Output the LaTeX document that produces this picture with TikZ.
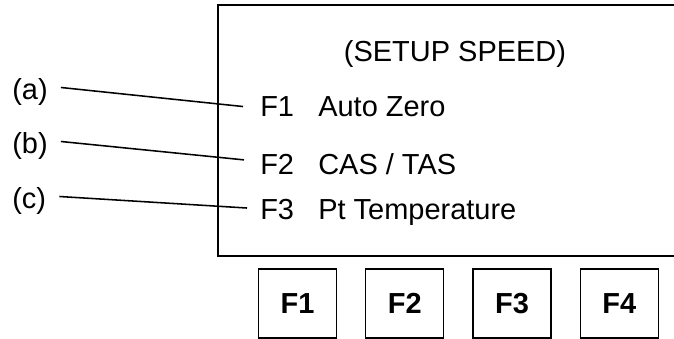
\documentclass[tikz,border=0pt]{standalone}
\usepackage{fontspec}
\setmainfont{Liberation Sans}
\usetikzlibrary{positioning}

\begin{document}
\begin{tikzpicture}[x=0.025cm,y=0.025cm,
  txt/.style={inner sep=0pt,anchor=base west,font=\fontsize{20.6}{24}\selectfont},
  key/.style={draw,line width=0.9pt,minimum width=1.95cm,minimum height=1.725cm,inner sep=0pt,font=\fontsize{20.6}{24}\selectfont\bfseries},
  lead/.style={line width=1.1pt}]
\useasboundingbox (0,0) rectangle (674,339);
% display
\draw[line width=1.8pt] (674,334) -- (218,334) -- (218,83) -- (674,83);
\node[txt,anchor=base] (title) at (455,277) {(SETUP SPEED)};
\node[txt] (f1) at (260,222.5) {F1};
\node[txt] (f2) at (260,164) {F2};
\node[txt] (f3) at (260,119) {F3};
\node[txt] (auto) at (318,222.5) {Auto Zero};
\node[txt] (cas)  at (318,164) {CAS / TAS};
\node[txt] (pt)   at (318,119) {Pt Temperature};
% labels
\node[txt] (la) at (12,239) {(a)};
\node[txt] (lb) at (12,185) {(b)};
\node[txt] (lc) at (12,130) {(c)};
\draw[lead] ([shift={(13,5)}]la.east) -- ([shift={(-17,0)}]f1.west);
\draw[lead] ([shift={(13,5)}]lb.east) -- ([shift={(-16,5)}]f2.west);
\draw[lead] ([shift={(13,5)}]lc.east) -- ([shift={(-13,2)}]f3.west);
% keys
\node[key] (k1) at (297.5,35.5) {F1};
\node[key,right=0.7cm of k1] (k2) {F2};
\node[key,right=0.7cm of k2] (k3) {F3};
\node[key,right=0.7cm of k3] (k4) {F4};
\end{tikzpicture}
\end{document}
